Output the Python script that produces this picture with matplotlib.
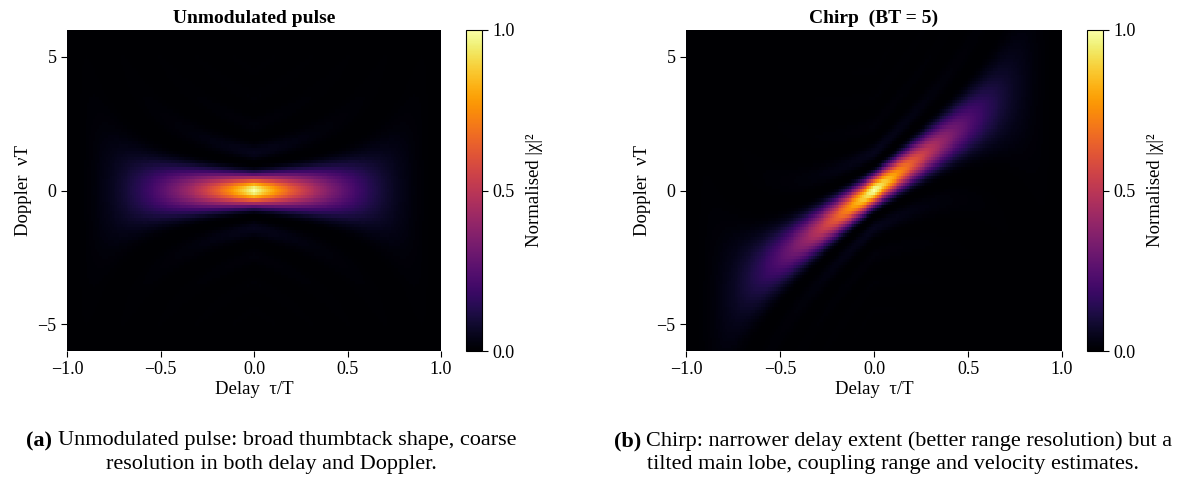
import numpy as np
import matplotlib
matplotlib.use("Agg")
import matplotlib.pyplot as plt

plt.rcParams['font.family'] = ['Liberation Serif', 'DejaVu Serif']
plt.rcParams['font.size'] = 13

# grid of delay (tau/T) and Doppler (nu*T) values
tau_lim = [-1.0, 1.0]
nu_lim = [-6.0, 6.0]
n_tau = 201
n_nu = 101
bt_product = 5  # chirp time-bandwidth product

titles = ['Unmodulated pulse', 'Chirp  (BT = 5)']
x_ticks = [-1.0, -0.5, 0.0, 0.5, 1.0]
y_ticks = [-5, 0, 5]
cb_ticks = [0.0, 0.5, 1.0]
captions = [('(a)', ['Unmodulated pulse: broad thumbtack shape, coarse',
                     'resolution in both delay and Doppler.']),
            ('(b)', ['Chirp: narrower delay extent (better range resolution) but a',
                     'tilted main lobe, coupling range and velocity estimates.'])]

tau = np.linspace(tau_lim[0], tau_lim[1], n_tau)
nu = np.linspace(nu_lim[0], nu_lim[1], n_nu)
TAU, NU = np.meshgrid(tau, nu)


def ambiguity(slope):
    # |chi|^2 of a rectangular pulse with linear FM of given slope (BT)
    w = np.clip(1 - np.abs(TAU), 0, None)
    chi = w * np.sinc((NU - slope * TAU) * w)
    a = chi ** 2
    return a / a.max()


maps = [ambiguity(0), ambiguity(bt_product)]

fig = plt.figure(figsize=(11.81, 4.88), dpi=100)
W, H = 1181, 488
ax_boxes = [(67, 30, 441, 351), (686, 30, 1062, 351)]
cb_boxes = [(466, 30, 482, 351), (1087, 30, 1103, 351)]

def to_fig(b):
    x0, y0, x1, y1 = b
    return [x0 / W, 1 - y1 / H, (x1 - x0) / W, (y1 - y0) / H]

for i in range(2):
    ax = fig.add_axes(to_fig(ax_boxes[i]))
    im = ax.imshow(maps[i], origin='lower', aspect='auto', cmap='inferno',
                   extent=[tau_lim[0], tau_lim[1], nu_lim[0], nu_lim[1]],
                   vmin=0, vmax=1, interpolation='nearest')
    ax.set_xlim(tau_lim)
    ax.set_ylim(nu_lim)
    ax.set_xticks(x_ticks)
    ax.set_yticks(y_ticks)
    for s in ax.spines.values():
        s.set_visible(False)
    ax.tick_params(direction='out', length=4, width=0.8, labelsize=13)
    ax.set_title(titles[i], fontweight='bold', fontsize=14, pad=5)
    ax.set_xlabel('Delay  τ/T', fontsize=13.5, labelpad=2)
    ax.set_ylabel('Doppler  νT', fontsize=13.5, labelpad=4)

    cax = fig.add_axes(to_fig(cb_boxes[i]))
    cb = fig.colorbar(im, cax=cax, ticks=cb_ticks)
    cb.outline.set_linewidth(0.8)
    cb.ax.tick_params(length=4, width=0.8, labelsize=13)
    cb.set_label('Normalised |χ|²', fontsize=13.5, labelpad=8)

# captions with bold label followed by regular text
fig.canvas.draw()
renderer = fig.canvas.get_renderer()
centers = [271, 893]
line_y = [441, 464]
cap_size = 16
for i, (lab, lines) in enumerate(captions):
    for j, line in enumerate(lines):
        y = 1 - line_y[j] / H
        if j == 0:
            tb = fig.text(0, y, lab + ' ', fontweight='bold', fontsize=cap_size, va='center')
            tr = fig.text(0, y, line, fontsize=cap_size, va='center')
            wb = tb.get_window_extent(renderer).width
            wr = tr.get_window_extent(renderer).width
            x0 = centers[i] - (wb + wr) / 2
            tb.set_x(x0 / W)
            tr.set_x((x0 + wb) / W)
        else:
            fig.text(centers[i] / W, y, line, fontsize=cap_size, va='center', ha='center')

fig.savefig('out.png', dpi=100)
